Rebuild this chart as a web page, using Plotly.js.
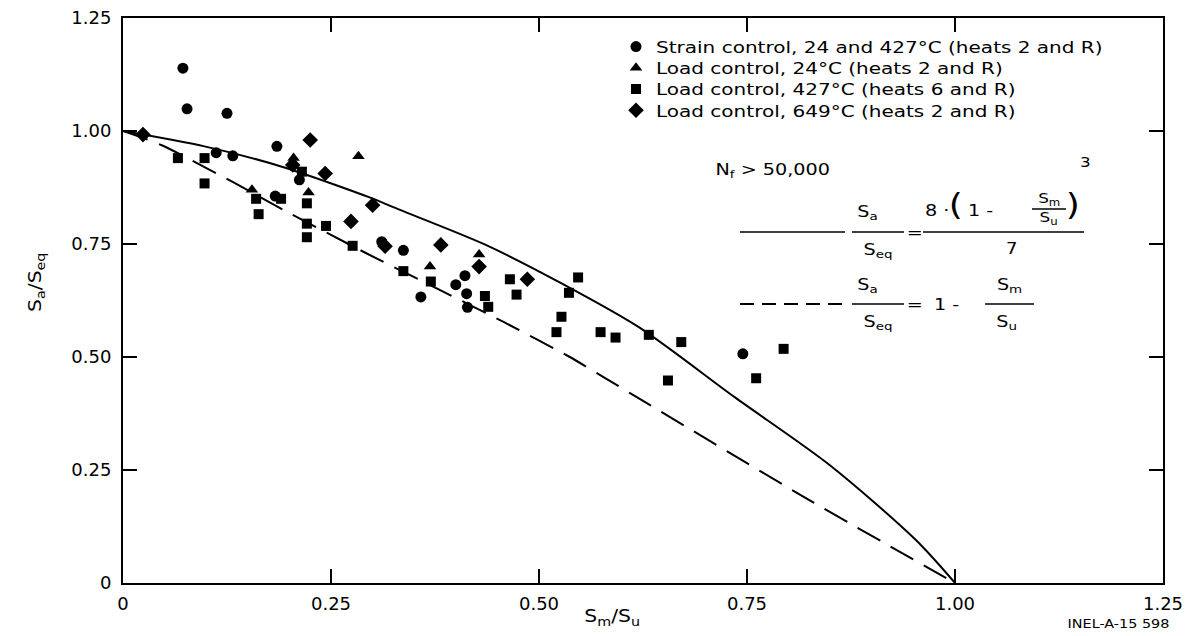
<!DOCTYPE html>
<html>
<head>
<meta charset="utf-8">
<script src="https://cdn.plot.ly/plotly-3.0.1.min.js"></script>
<style>
html,body{margin:0;padding:0;background:#fff;}
#chart{width:1192px;height:636px;}
#chart .legendtext{transform-box:fill-box;transform-origin:0% 50%;transform:scale(1.43,1.18);}
#chart .legend [clip-path]{clip-path:none !important;}
#chart .annotation-text{transform-box:fill-box;transform-origin:50% 50%;transform:scaleX(1.2);}
</style>
</head>
<body>
<div id="chart"></div>
<script>
// Axis ticks
const tickVals = [0, 0.25, 0.5, 0.75, 1.0, 1.25];
const xTickText = ["0", "0.25", "0.50", "0.75", "1.00", "1.25"];
const yTickText = ["0", "0.25", "0.50", "0.75", "1.00", "1.25"];

// Legend names
const seriesNames = [
  "Strain control, 24 and 427°C (heats 2 and R)",
  "Load control, 24°C (heats 2 and R)",
  "Load control, 427°C (heats 6 and R)",
  "Load control, 649°C (heats 2 and R)"
];

// Strain control, 24 and 427 C (circles)
const strainX = [0.072, 0.077, 0.125, 0.112, 0.132, 0.185, 0.183, 0.212, 0.311, 0.337, 0.358, 0.400, 0.411, 0.413, 0.414, 0.745];
const strainY = [1.139, 1.049, 1.039, 0.952, 0.945, 0.966, 0.856, 0.892, 0.755, 0.736, 0.633, 0.660, 0.680, 0.640, 0.610, 0.507];

// Load control, 24 C (triangles)
const load24X = [0.283, 0.205, 0.155, 0.223, 0.428, 0.369];
const load24Y = [0.944, 0.940, 0.870, 0.864, 0.727, 0.700];

// Load control, 427 C (squares)
const load427X = [0.066, 0.098, 0.098, 0.160, 0.163, 0.190, 0.215, 0.221, 0.221, 0.221, 0.244, 0.276, 0.337, 0.370, 0.435, 0.439, 0.465, 0.473, 0.547, 0.536, 0.527, 0.521, 0.574, 0.592, 0.632, 0.671, 0.655, 0.794, 0.761];
const load427Y = [0.940, 0.940, 0.884, 0.850, 0.816, 0.850, 0.910, 0.840, 0.795, 0.765, 0.790, 0.746, 0.690, 0.667, 0.635, 0.611, 0.672, 0.638, 0.676, 0.642, 0.589, 0.555, 0.555, 0.543, 0.549, 0.533, 0.448, 0.518, 0.453];

// Load control, 649 C (diamonds)
const load649X = [0.024, 0.225, 0.243, 0.274, 0.300, 0.204, 0.382, 0.486, 0.428, 0.315];
const load649Y = [0.992, 0.980, 0.906, 0.800, 0.836, 0.925, 0.748, 0.672, 0.700, 0.745];

// Solid curve (N_f > 50,000)
const solidX = [0, 0.098, 0.191, 0.298, 0.324, 0.436, 0.530, 0.620, 0.736, 0.850, 0.953, 1.0];
const solidY = [1.0, 0.966, 0.921, 0.852, 0.832, 0.748, 0.660, 0.566, 0.410, 0.260, 0.095, 0.0];

// Dashed line
const dashX = [0, 0.046, 0.134, 0.191, 0.293, 0.380, 0.458, 0.537, 0.579, 0.614, 0.828, 1.0];
const dashY = [1.0, 0.969, 0.885, 0.827, 0.729, 0.649, 0.577, 0.500, 0.454, 0.415, 0.180, 0.0];

const FONT = "DejaVu Sans, Liberation Sans, sans-serif";
const mk = (sym, size) => ({symbol: sym, size: size, color: "#000", line: {width: 0}});

const traces = [
  {x: solidX, y: solidY, mode: "lines", line: {color: "#000", width: 2, shape: "spline", smoothing: 0.8}, showlegend: false, hoverinfo: "skip"},
  {x: dashX, y: dashY, mode: "lines", line: {color: "#000", width: 2, dash: "26px,12px", shape: "spline", smoothing: 0.6}, showlegend: false, hoverinfo: "skip"},
  {x: strainX, y: strainY, mode: "markers", name: seriesNames[0], marker: mk("circle", 11)},
  {x: load24X, y: load24Y, mode: "markers", name: seriesNames[1], marker: mk("triangle-up", 11)},
  {x: load427X, y: load427Y, mode: "markers", name: seriesNames[2], marker: mk("square", 10)},
  {x: load649X, y: load649Y, mode: "markers", name: seriesNames[3], marker: mk("diamond", 12)}
];

// plot frame in pixels (layout only)
const L = 123, R = 1163, T = 18, B = 583;
const px = p => (p - L) / (R - L) * 1.25;
const py = p => (B - p) / (B - T) * 1.25;
const ann = (text, xp, yp, size, extra) => Object.assign({
  text: text, x: px(xp), y: py(yp), xref: "x", yref: "y", showarrow: false,
  font: {family: FONT, size: size || 16, color: "#000"}, xanchor: "center", yanchor: "middle"
}, extra || {});
const hline = (x0, x1, y, dash) => ({type: "line", xref: "x", yref: "y", x0: px(x0), x1: px(x1), y0: py(y), y1: py(y),
  line: {color: "#000", width: dash ? 2 : 1.5, dash: dash || "solid"}});
const paperAnn = (text, xp, yp, size, extra) => Object.assign({
  text: text, xref: "paper", yref: "paper", x: (xp - L) / (R - L), y: (B - yp) / (B - T),
  showarrow: false, font: {family: FONT, size: size, color: "#000"}, xanchor: "center", yanchor: "middle"
}, extra || {});

const annotations = [
  ann("N<sub>f</sub> > 50,000", 772, 170, 16),
  // eq 1
  ann("S<sub>a</sub>", 867, 212, 16),
  ann("S<sub>eq</sub>", 878, 250, 16),
  ann("=", 914, 232, 16),
  ann("8 ·", 937, 210, 16),
  ann("(", 956, 204, 30),
  ann("1 -", 980, 210, 16),
  ann("S<sub>m</sub>", 1049, 199, 14),
  ann("S<sub>u</sub>", 1048, 218, 14),
  ann(")", 1073, 204, 30),
  ann("3", 1085, 162, 14),
  ann("7", 1012, 249, 15),
  // eq 2
  ann("S<sub>a</sub>", 867, 285, 16),
  ann("S<sub>eq</sub>", 878, 322, 16),
  ann("=", 914, 304, 16),
  ann("1 -", 946, 304, 16),
  ann("S<sub>m</sub>", 1009, 285, 16),
  ann("S<sub>u</sub>", 1006, 322, 16),
  // axis titles and id
  paperAnn("S<sub>m</sub>/S<sub>u</sub>", 612, 617, 17),
  paperAnn("S<sub>a</sub>/S<sub>eq</sub>", 36, 282, 17, {textangle: -90}),
  paperAnn("INEL-A-15 598", 1118, 624, 12)
];

const shapes = [
  hline(740, 845, 232),
  hline(852, 904, 232),
  hline(923, 1084, 232),
  hline(1032, 1066, 209),
  hline(740, 845, 304, "14px,8px"),
  hline(852, 904, 304),
  hline(985, 1034, 304)
];

const axisCommon = {
  range: [0, 1.25], tickvals: tickVals, showgrid: false, zeroline: false,
  showline: true, linecolor: "#000", linewidth: 2, mirror: "ticks",
  ticks: "inside", ticklen: 14, tickwidth: 1.5, tickcolor: "#000",
  tickfont: {family: FONT, size: 18, color: "#000"}, fixedrange: true,
  ticklabeloverflow: "allow"
};

const layout = {
  width: 1192, height: 636,
  margin: {l: L, r: 1192 - R, t: T, b: 636 - B},
  paper_bgcolor: "#fff", plot_bgcolor: "#fff",
  xaxis: Object.assign({}, axisCommon, {ticktext: xTickText, ticklabelstandoff: 3}),
  yaxis: Object.assign({}, axisCommon, {ticktext: yTickText, ticklabelstandoff: 6}),
  showlegend: true,
  legend: {x: (616 - L) / (R - L), y: (B - 31) / (B - T), xanchor: "left", yanchor: "top", bgcolor: "rgba(0,0,0,0)",
    font: {family: FONT, size: 14, color: "#000"}, tracegroupgap: 0, itemclick: false},
  annotations: annotations,
  shapes: shapes
};

Plotly.newPlot("chart", traces, layout, {displayModeBar: false, staticPlot: true});
</script>
</body>
</html>
